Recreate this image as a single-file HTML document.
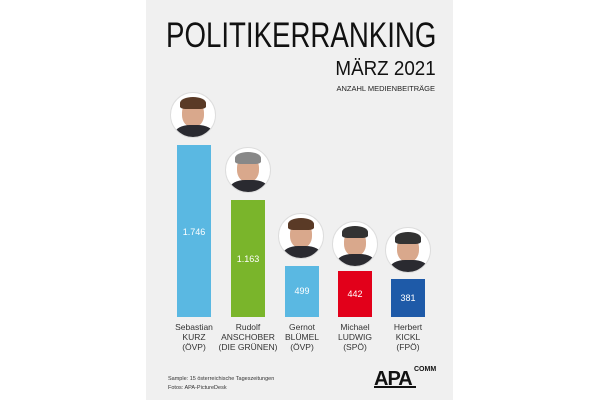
<!DOCTYPE html>
<html><head><meta charset="utf-8"><style>
body{margin:0;width:600px;height:400px;background:#fff;position:relative;overflow:hidden;font-family:"Liberation Sans",sans-serif}
.p{position:absolute;left:146px;top:0;width:307px;height:400px;background:#f0f0f0}
.a{position:absolute}
.bar{position:absolute;width:34px;bottom:83px;color:#fff;font-size:9px;text-align:center}
.c{position:absolute;width:46px;height:46px;border-radius:50%;background:#fff;border:1px solid #ddd;box-sizing:border-box;overflow:hidden}
.c i{position:absolute;left:11px;top:8px;width:22px;height:26px;border-radius:45%;background:#d9a88c}
.c b{position:absolute;left:9px;top:4px;width:26px;height:12px;border-radius:50% 50% 20% 20%;background:#5a3a26}
.c u{position:absolute;left:4px;top:32px;width:38px;height:20px;border-radius:40% 40% 0 0;background:#2a2a30}
.l{position:absolute;top:322px;width:70px;font-size:8.5px;line-height:10px;text-align:center;color:#333}
</style></head><body>
<div class="p"></div>
<div class="a" style="left:166px;top:16px;font-size:35px;color:#111;white-space:nowrap;transform:scaleX(0.79);transform-origin:0 0">POLITIKERRANKING</div>
<div class="a" style="right:164px;top:58px;font-size:20px;color:#111;transform:scaleX(0.94);transform-origin:100% 0">MÄRZ 2021</div>
<div class="a" style="right:165px;top:84px;font-size:7.5px;color:#222">ANZAHL MEDIENBEITRÄGE</div>

<div class="bar" style="left:177px;height:172px;background:#5ab8e2"><div style="margin-top:82px">1.746</div></div>
<div class="bar" style="left:231px;height:117px;background:#7ab52b"><div style="margin-top:54px">1.163</div></div>
<div class="bar" style="left:285px;height:51px;background:#5ab8e2"><div style="margin-top:20px">499</div></div>
<div class="bar" style="left:338px;height:46px;background:#e2001a"><div style="margin-top:18px">442</div></div>
<div class="bar" style="left:391px;height:38px;background:#1e5aa8"><div style="margin-top:14px">381</div></div>

<div class="c" style="left:170px;top:92px"><i></i><b></b><u></u></div>
<div class="c" style="left:225px;top:147px"><i></i><b style="background:#888"></b><u></u></div>
<div class="c" style="left:278px;top:213px"><i></i><b></b><u></u></div>
<div class="c" style="left:332px;top:221px"><i></i><b style="background:#333"></b><u></u></div>
<div class="c" style="left:385px;top:227px"><i></i><b style="background:#333"></b><u></u></div>

<div class="l" style="left:159px">Sebastian<br>KURZ<br>(ÖVP)</div>
<div class="l" style="left:213px">Rudolf<br>ANSCHOBER<br>(DIE GRÜNEN)</div>
<div class="l" style="left:267px">Gernot<br>BLÜMEL<br>(ÖVP)</div>
<div class="l" style="left:320px">Michael<br>LUDWIG<br>(SPÖ)</div>
<div class="l" style="left:373px">Herbert<br>KICKL<br>(FPÖ)</div>

<div class="a" style="left:168px;top:375px;font-size:5.5px;line-height:9px;color:#333">Sample: 15 österreichische Tageszeitungen<br>Fotos: APA-PictureDesk</div>
<div class="a" style="left:414px;top:366px;font-size:7px;font-weight:bold;color:#111">COMM</div>
<div class="a" style="left:374px;top:368px;font-size:20px;font-weight:bold;color:#111;letter-spacing:-1px">APA</div>
<div class="a" style="left:374px;top:386px;width:42px;height:2px;background:#111"></div>
</body></html>
